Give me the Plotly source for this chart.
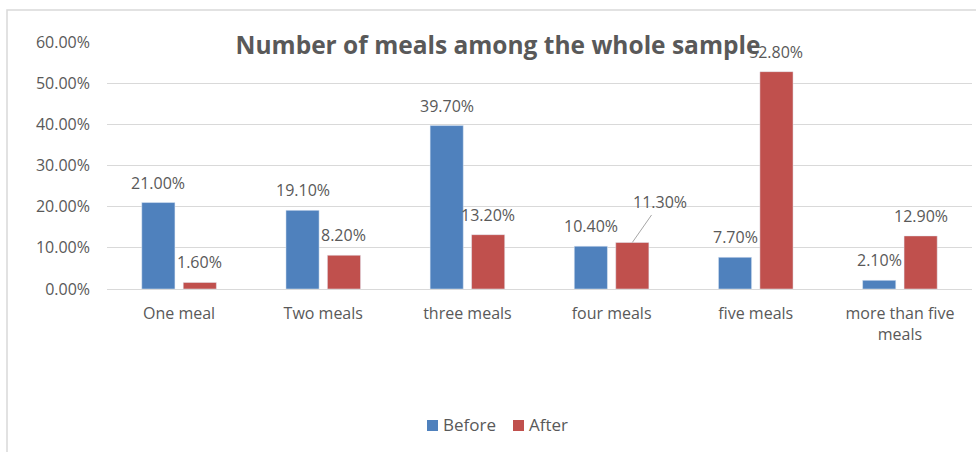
import plotly.graph_objects as go

categories = ["One meal", "Two meals", "three meals", "four meals", "five meals", "more than five<br>meals"]
series_names = ["Before", "After"]
before = [0.210, 0.191, 0.397, 0.104, 0.077, 0.021]
after = [0.016, 0.082, 0.132, 0.113, 0.528, 0.129]
y_ticks = [0, 0.1, 0.2, 0.3, 0.4, 0.5, 0.6]
title_text = "Number of meals among the whole sample"

BLUE = "#4F81BD"
RED = "#C0504D"
TXT = "#595959"
GRID = "#D9D9D9"
FONT = "Open Sans"

W, H = 976, 452
L, R, T, B = 107, 4, 42, 163
plot_w = W - L - R
plot_h = H - T - B
bargap = 0.425
bargroupgap = 0.2
slot = plot_w / len(categories) * (1 - bargap) / 2


def px_x(px):
    return (px - L) / plot_w


def px_y(py):
    return (H - B - py) / plot_h


fig = go.Figure()
fig.add_bar(name=series_names[0], x=categories, y=before, marker_color=BLUE, showlegend=False)
fig.add_bar(name=series_names[1], x=categories, y=after, marker_color=RED, showlegend=False)

lab_font = dict(family=FONT, size=16, color=TXT)
annotations = []
for i, (c, v) in enumerate(zip(categories, before)):
    annotations.append(dict(x=c, y=v, xref="x", yref="y", text=f"{v*100:.2f}%", showarrow=False,
                            xshift=-slot / 2, yshift=7, yanchor="bottom", font=lab_font))
for i, (c, v) in enumerate(zip(categories, after)):
    if i == 3:
        # label moved aside with a leader line
        annotations.append(dict(x=c, y=v, xref="x", yref="y", text=f"{v*100:.2f}%", showarrow=True,
                                arrowhead=0, arrowwidth=1, arrowcolor="#A6A6A6", ax=28, ay=-40,
                                standoff=0, xshift=slot / 2, font=lab_font))
        continue
    annotations.append(dict(x=c, y=v, xref="x", yref="y", text=f"{v*100:.2f}%", showarrow=False,
                            xshift=slot / 2, yshift=7, yanchor="bottom", font=lab_font))

# custom legend (square swatches + text)
shapes = [dict(type="rect", xref="paper", yref="paper",
               x0=px_x(7), x1=px_x(W + 10), y0=px_y(H + 10), y1=px_y(10),
               line=dict(color=GRID, width=1.5), layer="below")]
legend_items = [(series_names[0], BLUE, 427), (series_names[1], RED, 513)]
for name, col, x0 in legend_items:
    shapes.append(dict(type="rect", xref="paper", yref="paper",
                       x0=px_x(x0), x1=px_x(x0 + 11), y0=px_y(431), y1=px_y(420),
                       line=dict(width=0), fillcolor=col))
    annotations.append(dict(x=px_x(x0 + 14), y=px_y(425), xref="paper", yref="paper", text=name,
                            showarrow=False, xanchor="left", yanchor="middle",
                            font=dict(family=FONT, size=17, color=TXT)))

fig.update_layout(
    width=W, height=H,
    margin=dict(l=L, r=R, t=T, b=B),
    paper_bgcolor="white", plot_bgcolor="white",
    barmode="group", bargap=bargap, bargroupgap=bargroupgap,
    font=dict(family=FONT, size=16, color=TXT),
    title=dict(text=f"<b>{title_text}</b>", x=498 / W, xref="container", xanchor="center",
               y=1 - 45 / H, yref="container", yanchor="middle",
               font=dict(family=FONT, size=24.5, color=TXT)),
    showlegend=False,
    annotations=annotations,
    shapes=shapes,
)
fig.update_yaxes(range=[0, 0.6], tickvals=y_ticks, tickformat=".2%", gridcolor=GRID, gridwidth=1,
                 zeroline=False, showline=False, ticklabelstandoff=16,
                 tickfont=dict(family=FONT, size=16, color=TXT))
fig.update_xaxes(showline=True, linecolor=GRID, linewidth=1, ticks="", ticklabelstandoff=10,
                 tickfont=dict(family=FONT, size=16, color=TXT))

fig.write_html("out.html")
